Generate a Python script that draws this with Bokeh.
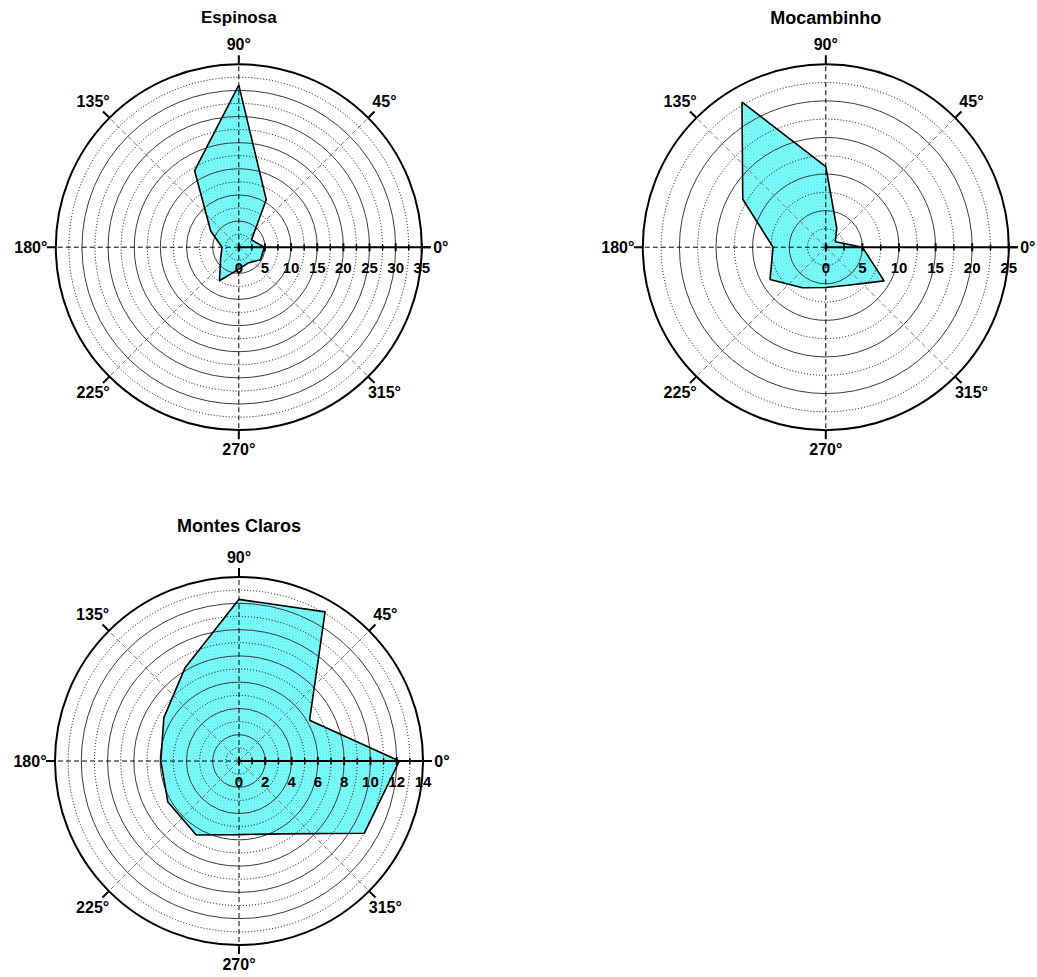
import numpy as np
from bokeh.plotting import figure
from bokeh.models import Range1d
from bokeh.layouts import column, row
from bokeh.core.properties import value
from bokeh.embed import file_html
from bokeh.resources import INLINE

# ---------------- data ----------------
directions = [0, 30, 60, 90, 120, 150, 180, 210, 240, 270, 300, 330]
espinosa = [4.9, 2.8, 10.5, 31.0, 16.9, 6.2, 3.2, 4.0, 7.4, 4.2, 3.5, 4.8]
mocambinho = [5.0, 1.5, 3.0, 11.0, 22.9, 13.1, 7.2, 8.8, 6.4, 5.5, 6.0, 9.2]
montes_claros = [12.2, 6.2, 13.1, 12.3, 8.2, 6.6, 5.95, 6.25, 6.5, 5.6, 6.4, 11.0]

titles = ["Espinosa", "Mocambinho", "Montes Claros"]
radial_max = [35, 25, 14]
radial_step = [2.5, 2.5, 1]          # ring / minor tick spacing
angle_ticks = [0, 45, 90, 135, 180, 225, 270, 315]
angle_labels = ["0°", "45°", "90°", "135°", "180°", "225°", "270°", "315°"]

FONT = "Liberation Sans"
FILL = "#80ffff"


def polar_panel(title, vals, rmax, step, W, H, cx, cy, Rpx, title_y, title_size):
    s = rmax / Rpx  # data units per pixel
    p = figure(width=W, height=H,
               x_range=Range1d(-cx * s, (W - cx) * s),
               y_range=Range1d(-(H - cy) * s, cy * s),
               output_backend="svg", toolbar_location=None,
               x_axis_type=None, y_axis_type=None,
               min_border=0, outline_line_color=None)
    p.background_fill_color = "white"
    p.border_fill_color = "white"

    th = np.deg2rad(directions)
    v = np.array(vals, dtype=float)
    px = list(v * np.cos(th))
    py = list(v * np.sin(th))

    # filled area
    p.patch(px, py, fill_color=FILL, line_color=None,
            hatch_pattern="x", hatch_color="#2fbcbc", hatch_alpha=0.35,
            hatch_scale=3, hatch_weight=0.6)

    # grid rings
    n = int(round(rmax / step))
    solid = [k * step for k in range(1, n) if k % 2 == 0]
    dotted = [k * step for k in range(1, n) if k % 2 == 1]
    p.circle(x=[0] * len(solid), y=[0] * len(solid), radius=solid,
             fill_color=None, line_color="#3a3a3a", line_width=1)
    p.circle(x=[0] * len(dotted), y=[0] * len(dotted), radius=dotted,
             fill_color=None, line_color="black", line_width=1, line_dash="1 2")

    # spokes
    for a in angle_ticks:
        ar = np.deg2rad(a)
        if a == 0:
            continue
        if a % 90 == 0:
            col, lw = "black", 1
        else:
            col, lw = "#7a7a7a", 1
        p.line([0, rmax * np.cos(ar)], [0, rmax * np.sin(ar)],
               line_color=col, line_width=lw, line_dash="5 3")

    # outer circle
    p.circle(x=[0], y=[0], radius=[rmax], fill_color=None,
             line_color="black", line_width=2)

    # outer angle ticks
    tl = 9 * s
    x0 = [rmax * np.cos(np.deg2rad(a)) for a in angle_ticks]
    y0 = [rmax * np.sin(np.deg2rad(a)) for a in angle_ticks]
    x1 = [(rmax + tl) * np.cos(np.deg2rad(a)) for a in angle_ticks]
    y1 = [(rmax + tl) * np.sin(np.deg2rad(a)) for a in angle_ticks]
    p.segment(x0, y0, x1, y1, line_color="black", line_width=2)

    # polygon outline
    p.patch(px, py, fill_color=None, line_color="black", line_width=1.6)

    # radial axis along 0 deg
    p.line([0, rmax + tl], [0, 0], line_color="black", line_width=2)
    majors = [k * step for k in range(0, n + 1) if k % 2 == 0]
    minors = [k * step for k in range(1, n + 1) if k % 2 == 1]
    hM, hm = 4 * s, 3 * s
    p.segment(majors, [-hM] * len(majors), majors, [hM] * len(majors),
              line_color="black", line_width=2)
    p.segment(minors, [-hm] * len(minors), minors, [hm] * len(minors),
              line_color="black", line_width=1.5)
    lab = [("%g" % m) for m in majors]
    p.text(x=majors, y=[-21 * s] * len(majors), text=lab,
           text_align="center", text_baseline="middle",
           text_font=value(FONT), text_font_style="bold",
           text_font_size="15px", text_color="black")

    # angle labels
    offs = [19, 23, 20, 23, 25, 23, 19, 23]
    lx = [(rmax + o * s) * np.cos(np.deg2rad(a)) for a, o in zip(angle_ticks, offs)]
    ly = [(rmax + o * s) * np.sin(np.deg2rad(a)) for a, o in zip(angle_ticks, offs)]
    p.text(x=lx, y=ly, text=angle_labels, text_align="center",
           text_baseline="middle", text_font=value(FONT),
           text_font_style="bold", text_font_size="16px", text_color="black")

    # title
    p.text(x=[0], y=[(cy - title_y) * s], text=[title], text_align="center",
           text_baseline="middle", text_font=value(FONT),
           text_font_style="bold", text_font_size=title_size, text_color="black")
    return p


p1 = polar_panel(titles[0], espinosa, radial_max[0], radial_step[0],
                 515, 490, 238.3, 246.7, 183, 17, "17px")
p2 = polar_panel(titles[1], mocambinho, radial_max[1], radial_step[1],
                 520, 490, 310.3, 246.7, 183, 17, "18px")
p3 = polar_panel(titles[2], montes_claros, radial_max[2], radial_step[2],
                 515, 486, 238.5, 270.5, 184, 35, "18px")

layout = column(row(p1, p2), p3)
open("out.html", "w").write(file_html(layout, INLINE))
